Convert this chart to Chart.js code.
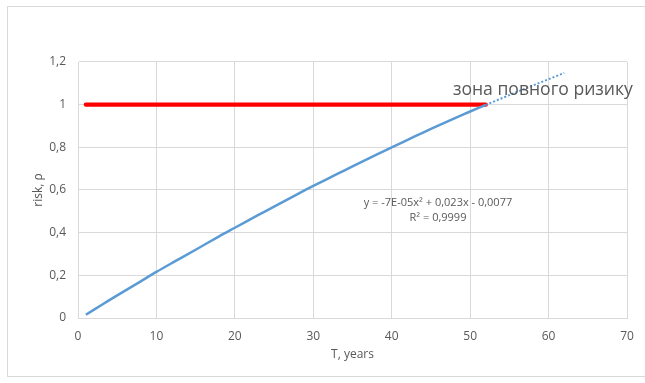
<!DOCTYPE html>
<html>
<head>
<meta charset="utf-8">
<script src="https://cdn.jsdelivr.net/npm/chart.js@4.4.1/dist/chart.umd.min.js"></script>
<style>
  html, body { margin: 0; padding: 0; background: #ffffff; }
  #wrap { width: 645px; height: 383px; position: relative; }
</style>
</head>
<body>
<div id="wrap"><canvas id="c" width="645" height="383"></canvas></div>
<script>
// Risk over time: observed curve, its polynomial trend and the full-risk threshold
const years = [1, 3, 5, 8, 10, 12, 15, 18, 20, 23, 25, 28, 30, 33, 35, 38, 40, 43, 45, 48, 50, 52];
const risk = [0.015, 0.061, 0.106, 0.172, 0.216, 0.258, 0.320, 0.383, 0.423, 0.483, 0.522, 0.581,
              0.619, 0.674, 0.711, 0.765, 0.800, 0.852, 0.886, 0.936, 0.968, 0.999];

const trendYears = [52, 57, 62];
const trendRisk = [0.999, 1.075, 1.149];

const thresholdYears = [1, 52];
const thresholdRisk = [1, 1];

const xTicks = [0, 10, 20, 30, 40, 50, 60, 70];
const yTickLabels = ['0', '0,2', '0,4', '0,6', '0,8', '1', '1,2'];

const zoneLabel = 'зона повного ризику';
const equationLines = ['y = -7E-05x\u00B2 + 0,023x - 0,0077', 'R\u00B2 = 0,9999'];

const toPoints = (xs, ys) => xs.map((x, i) => ({ x: x, y: ys[i] }));

const textColor = '#595959';
const gridColor = '#d9d9d9';
const fontFamily = '"Open Sans", "Liberation Sans", sans-serif';

// outer chart frame
const framePlugin = {
  id: 'frame',
  beforeDraw(chart) {
    const ctx = chart.ctx;
    ctx.save();
    ctx.strokeStyle = '#d9d9d9';
    ctx.lineWidth = 1;
    ctx.strokeRect(7.5, 6.5, 650, 370);
    ctx.restore();
  }
};

// text annotations placed in data coordinates
const notesPlugin = {
  id: 'notes',
  afterDatasetsDraw(chart) {
    const ctx = chart.ctx;
    const xs = chart.scales.x, ys = chart.scales.y;
    ctx.save();
    ctx.fillStyle = textColor;
    ctx.textBaseline = 'alphabetic';

    ctx.textAlign = 'left';
    ctx.font = '18px ' + fontFamily;
    ctx.fillText(zoneLabel, xs.getPixelForValue(47.8), ys.getPixelForValue(1.045), 180);

    ctx.textAlign = 'center';
    ctx.font = '11px ' + fontFamily;
    const cx = xs.getPixelForValue(45.9);
    ctx.fillText(equationLines[0], cx, ys.getPixelForValue(0.525), 164);
    ctx.fillText(equationLines[1], cx, ys.getPixelForValue(0.455), 64);
    ctx.restore();
  }
};

new Chart(document.getElementById('c'), {
  type: 'scatter',
  data: {
    datasets: [
      {
        label: 'threshold',
        data: toPoints(thresholdYears, thresholdRisk),
        showLine: true,
        borderColor: '#ff0000',
        borderWidth: 4.2,
        borderCapStyle: 'round',
        pointRadius: 0,
        order: 2
      },
      {
        label: 'trend',
        data: toPoints(trendYears, trendRisk),
        showLine: true,
        borderColor: '#5b9bd5',
        borderWidth: 2,
        borderDash: [2, 2],
        pointRadius: 0,
        tension: 0.3,
        order: 1
      },
      {
        label: 'risk',
        data: toPoints(years, risk),
        showLine: true,
        borderColor: '#5b9bd5',
        borderWidth: 2.5,
        pointRadius: 0,
        tension: 0.3,
        order: 0
      }
    ]
  },
  options: {
    responsive: false,
    animation: false,
    devicePixelRatio: 1,
    layout: { padding: { left: 0, top: 62, right: 18, bottom: 0 } },
    plugins: { legend: { display: false }, tooltip: { enabled: false } },
    scales: {
      x: {
        type: 'linear',
        min: 0, max: 70,
        afterBuildTicks(scale) { scale.ticks = xTicks.map(v => ({ value: v })); },
        afterFit(scale) { scale.height = 65; },
        grid: { color: gridColor, drawTicks: false },
        border: { color: gridColor },
        ticks: {
          color: textColor,
          padding: 11,
          font: { family: fontFamily, size: 12 }
        },
        title: {
          display: true,
          text: 'T, years',
          color: textColor,
          font: { family: fontFamily, size: 12 },
          padding: { top: 0, bottom: 21 }
        }
      },
      y: {
        type: 'linear',
        min: 0, max: 1.2,
        afterBuildTicks(scale) { scale.ticks = yTickLabels.map((t, i) => ({ value: i * 0.2 })); },
        afterFit(scale) { scale.width = 78; },
        grid: { color: gridColor, drawTicks: false },
        border: { color: gridColor },
        ticks: {
          color: textColor,
          padding: 12,
          font: { family: fontFamily, size: 12 },
          callback(value, index) { return yTickLabels[index]; }
        },
        title: {
          display: true,
          text: 'risk, \u03C1',
          color: textColor,
          font: { family: fontFamily, size: 12 },
          padding: { top: 31, bottom: 0 }
        }
      }
    }
  },
  plugins: [framePlugin, notesPlugin]
});
</script>
</body>
</html>
